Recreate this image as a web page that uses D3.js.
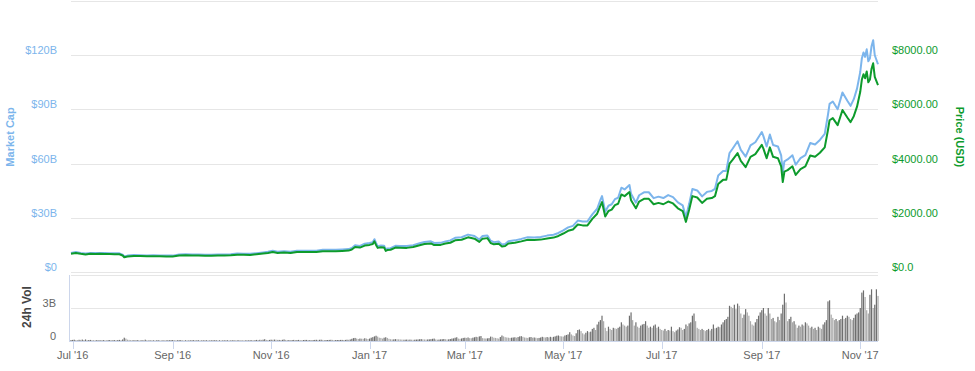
<!DOCTYPE html>
<html><head><meta charset="utf-8">
<script src="https://cdn.jsdelivr.net/npm/d3@7"></script>
<style>
html,body{margin:0;padding:0;background:#fff;}
svg{display:block;font-family:"Lucida Grande","Lucida Sans Unicode",Arial,"Liberation Sans",sans-serif;}
</style></head><body>
<svg id="chart" width="975" height="371"></svg>
<script>
// ---- DATA ----
const dates = ["2016-06-30","2016-07-03","2016-07-06","2016-07-09","2016-07-12","2016-07-15","2016-07-18","2016-07-21","2016-07-24","2016-07-27","2016-07-30",
"2016-08-01","2016-08-02","2016-08-04","2016-08-08","2016-08-12","2016-08-16","2016-08-20","2016-08-24","2016-08-28",
"2016-09-01","2016-09-05","2016-09-09","2016-09-13","2016-09-17","2016-09-21","2016-09-25","2016-09-29",
"2016-10-03","2016-10-07","2016-10-11","2016-10-15","2016-10-19","2016-10-23","2016-10-27","2016-10-30",
"2016-11-02","2016-11-05","2016-11-09","2016-11-13","2016-11-17","2016-11-21","2016-11-25","2016-11-29",
"2016-12-03","2016-12-07","2016-12-11","2016-12-15","2016-12-19","2016-12-21","2016-12-23","2016-12-26","2016-12-29",
"2017-01-01","2017-01-03","2017-01-04","2017-01-05","2017-01-06","2017-01-08","2017-01-10","2017-01-11","2017-01-12","2017-01-14","2017-01-17","2017-01-20","2017-01-24","2017-01-28",
"2017-02-01","2017-02-04","2017-02-08","2017-02-10","2017-02-14","2017-02-17","2017-02-20","2017-02-23","2017-02-27",
"2017-03-03","2017-03-07","2017-03-10","2017-03-12","2017-03-15","2017-03-17","2017-03-19","2017-03-22","2017-03-24","2017-03-26","2017-03-28",
"2017-04-01","2017-04-05","2017-04-09","2017-04-13","2017-04-17","2017-04-21","2017-04-25","2017-04-28",
"2017-05-01","2017-05-04","2017-05-07","2017-05-10","2017-05-13","2017-05-16","2017-05-19","2017-05-22","2017-05-24","2017-05-25","2017-05-27","2017-05-29","2017-05-31",
"2017-06-02","2017-06-04","2017-06-06","2017-06-08","2017-06-11","2017-06-12","2017-06-15","2017-06-17","2017-06-20","2017-06-23","2017-06-26","2017-06-29",
"2017-07-02","2017-07-05","2017-07-08","2017-07-11","2017-07-14","2017-07-16","2017-07-18","2017-07-20","2017-07-23","2017-07-26","2017-07-29",
"2017-08-01","2017-08-03","2017-08-05","2017-08-08","2017-08-10","2017-08-12","2017-08-14","2017-08-17","2017-08-19","2017-08-22","2017-08-25","2017-08-28",
"2017-09-01","2017-09-02","2017-09-04","2017-09-06","2017-09-08","2017-09-11","2017-09-13","2017-09-14","2017-09-15","2017-09-17","2017-09-20","2017-09-22","2017-09-25","2017-09-28",
"2017-10-01","2017-10-04","2017-10-07","2017-10-10","2017-10-12","2017-10-13","2017-10-15","2017-10-18","2017-10-21","2017-10-24","2017-10-26","2017-10-28","2017-10-30",
"2017-11-01","2017-11-02","2017-11-03","2017-11-04","2017-11-05","2017-11-06","2017-11-07","2017-11-08","2017-11-09","2017-11-10","2017-11-12"];

const priceUSD = [672,700,670,650,672,665,672,665,660,655,655,
610,545,575,592,587,580,582,580,575,
572,608,622,608,607,597,601,605,
612,615,640,638,630,655,680,700,
735,705,715,700,738,735,735,735,
765,768,770,778,790,830,920,900,975,
1000,1030,1130,1000,890,910,905,780,810,820,900,895,890,920,
985,1030,1055,995,1000,1050,1080,1170,1190,
1280,1230,1110,1230,1250,1070,1020,1040,940,960,1050,
1080,1130,1190,1180,1195,1240,1270,1330,
1420,1520,1570,1750,1720,1720,1960,2150,2450,2580,2050,2250,2300,
2470,2520,2860,2800,2950,2650,2350,2600,2700,2700,2500,2550,
2500,2600,2530,2350,2250,1850,2300,2800,2750,2550,2700,
2730,2800,3250,3400,3400,4000,4150,4390,4100,3870,4250,4350,
4690,4550,4200,4600,4250,4200,3900,3320,3700,3760,3900,3580,3800,3900,
4300,4250,4400,4600,5240,5600,5680,5420,5980,5700,5530,5750,6100,
6650,7100,7300,7150,7400,7000,7100,7500,7700,7200,6900];

const marketCapB = [10.57,11.01,10.54,10.23,10.58,10.47,10.58,10.47,10.39,10.32,10.33,
9.63,8.60,9.08,9.35,9.28,9.17,9.21,9.18,9.11,
9.07,9.65,9.87,9.66,9.65,9.49,9.56,9.63,
9.75,9.80,10.20,10.17,10.05,10.45,10.85,11.17,
11.74,11.27,11.43,11.19,11.80,11.76,11.77,11.77,
12.26,12.31,12.35,12.48,12.67,13.31,14.76,14.44,15.65,
16.06,16.55,18.15,16.07,14.30,14.63,14.55,12.54,13.02,13.19,14.48,14.40,14.33,14.81,
15.87,16.60,17.01,16.05,16.14,16.95,17.44,18.90,19.23,
20.70,19.90,17.96,19.90,20.23,17.32,16.52,16.84,15.23,15.55,17.01,
17.51,18.32,19.30,19.15,19.40,20.14,20.63,21.61,
23.08,24.72,25.54,28.47,27.99,28.00,31.91,35.01,39.91,42.03,33.40,36.67,37.49,
40.29,41.11,46.67,45.70,48.17,43.27,38.38,42.47,44.12,44.14,40.89,41.72,
40.93,42.58,41.44,38.51,36.88,30.33,37.72,45.93,45.13,41.86,44.34,
44.87,46.03,53.45,55.94,55.96,65.86,68.35,72.35,67.59,63.83,70.13,71.81,
77.50,75.20,69.43,76.06,70.30,69.50,64.56,54.97,61.27,62.28,64.63,59.35,63.02,64.70,
71.38,70.56,73.07,76.41,87.05,93.04,94.38,90.08,99.41,94.79,91.98,95.66,101.51,
110.70,118.20,121.55,119.06,123.24,116.59,118.27,124.95,128.29,119.98,115.00];

// daily 24h volume, starting 2016-06-30, in units of $10M
const volumeStart = "2016-06-30";
const volume10M = [9,
10,12,9,8,11,10,13,9,14,8,9,10,9,8,7,9,8,8,7,9,8,7,8,9,7,8,8,7,9,10,8,
14,30,22,12,10,9,8,8,7,9,8,7,8,7,12,8,7,7,6,7,6,6,8,7,6,7,6,6,7,7,8,
9,8,7,7,8,8,7,6,7,6,6,6,7,8,7,7,7,6,6,6,6,7,6,6,6,7,7,7,6,7,
6,6,6,6,7,6,6,6,7,6,6,7,6,6,5,6,6,6,7,7,6,8,10,9,11,10,12,16,10,9,10,
12,11,13,12,10,10,9,11,14,10,9,9,8,9,10,9,9,10,9,8,9,10,10,9,9,8,9,10,11,10,
11,12,10,9,9,9,10,11,10,9,9,9,9,10,10,9,10,12,11,14,20,26,28,22,18,22,21,20,25,22,18,
22,30,35,42,48,40,30,28,22,30,34,28,20,16,14,15,17,16,15,14,13,12,12,13,12,13,12,11,12,13,14,
16,17,15,14,13,14,15,17,20,22,14,12,13,15,16,18,16,14,15,18,22,24,30,34,22,20,23,28,
30,28,32,26,25,30,34,38,35,42,45,26,24,23,24,26,40,38,30,28,25,22,36,50,42,35,32,30,28,30,32,
34,30,36,42,44,38,32,30,28,34,36,30,32,30,26,28,32,38,34,32,36,32,38,34,38,42,48,50,44,42,
40,50,55,60,80,60,50,45,70,100,105,90,70,60,75,90,80,85,110,120,100,150,175,190,230,180,120,90,130,110,100,
120,115,110,120,130,170,150,140,130,140,230,260,190,140,170,130,120,140,150,155,180,140,120,130,120,140,150,120,130,110,
100,95,110,90,100,95,130,90,80,95,105,125,120,100,110,150,135,160,170,230,250,180,120,110,100,110,100,90,100,110,95,
110,150,115,120,130,125,150,170,190,200,220,320,310,300,330,290,340,320,250,210,240,290,260,230,180,150,140,170,200,230,260,
280,300,250,230,300,250,200,210,180,170,220,190,250,330,430,350,180,200,220,170,180,150,120,140,130,150,140,170,160,140,
120,130,110,120,100,130,120,110,150,170,190,360,370,240,210,190,200,180,190,200,230,200,210,230,220,200,190,210,240,250,260,
300,440,460,400,280,250,420,470,300,330,470,410];

const capTicks = [0,30,60,90,120,150];
const capTickLabels = ["$0","$30B","$60B","$90B","$120B",""];
const priceTicks = [0,2000,4000,6000,8000,10000];
const priceTickLabels = ["$0.0","$2000.00","$4000.00","$6000.00","$8000.00",""];
const volTicks = [0,300,600];
const volTickLabels = ["0","3B",""];

// ---- CHART ----
const parse = d3.timeParse("%Y-%m-%d");
const dts = dates.map(parse);
const vStart = parse(volumeStart);
const vDates = volume10M.map((v,i)=>d3.timeDay.offset(vStart,i));

const L = 71, R = 878, mainTop = 1, mainBot = 272, volTop = 275, volBot = 341;
const BLUE = "#7cb5ec", GREEN = "#0d9b2c", GRID = "#e6e6e6", AXIS = "#ccd6eb";

const svg = d3.select("#chart");
const x = d3.scaleTime().domain([dts[0], dts[dts.length-1]]).range([L, R]);
const yCap = d3.scaleLinear().domain([0,150]).range([mainBot, mainTop]);
const yPrice = d3.scaleLinear().domain([0,10000]).range([mainBot, mainTop]);
const yVol = d3.scaleLinear().domain([0,600]).range([volBot, volTop]);

// gridlines main
svg.append("g").selectAll("line").data(capTicks).join("line")
  .attr("x1",L).attr("x2",R)
  .attr("y1",d=>Math.round(yCap(d))+0.5).attr("y2",d=>Math.round(yCap(d))+0.5)
  .attr("stroke",GRID).attr("stroke-width",1);
// left labels
svg.append("g").selectAll("text").data(capTicks).join("text")
  .attr("x",57).attr("y",d=>yCap(d)-1)
  .attr("text-anchor","end").attr("font-size","11px").attr("fill",BLUE)
  .text((d,i)=>capTickLabels[i]);
// right labels
svg.append("g").selectAll("text").data(priceTicks).join("text")
  .attr("x",892).attr("y",d=>yPrice(d)-1)
  .attr("text-anchor","start").attr("font-size","11px").attr("fill",GREEN)
  .text((d,i)=>priceTickLabels[i]);

// volume gridlines
svg.append("g").selectAll("line").data(volTicks).join("line")
  .attr("x1",L).attr("x2",R)
  .attr("y1",d=>Math.round(yVol(d))+0.5).attr("y2",d=>Math.round(yVol(d))+0.5)
  .attr("stroke",GRID);
svg.append("g").selectAll("text").data(volTicks).join("text")
  .attr("x",56).attr("y",d=>yVol(d)-1)
  .attr("text-anchor","end").attr("font-size","11px").attr("fill","#666")
  .text((d,i)=>volTickLabels[i]);

// volume bars
svg.append("g").selectAll("rect").data(volume10M).join("rect")
  .attr("x",(d,i)=>x(vDates[i])-0.6)
  .attr("width",1.2)
  .attr("y",d=>yVol(d))
  .attr("height",d=>volBot-yVol(d))
  .attr("fill",(d,i)=> (i>0 && d<volume10M[i-1]) ? "#a9a9a9" : "#6e6e6e");

// axis lines
svg.append("line").attr("x1",69.5).attr("x2",69.5).attr("y1",volTop).attr("y2",volBot).attr("stroke",AXIS);
svg.append("line").attr("x1",69).attr("x2",R).attr("y1",volBot+0.5).attr("y2",volBot+0.5).attr("stroke",AXIS);

// x axis ticks
const xt = x.ticks(d3.timeMonth.every(2));
const fmt = d3.timeFormat("%b '%y");
svg.append("g").selectAll("line").data(xt).join("line")
  .attr("x1",d=>Math.round(x(d))+0.5).attr("x2",d=>Math.round(x(d))+0.5)
  .attr("y1",volBot).attr("y2",volBot+8).attr("stroke",AXIS);
svg.append("g").selectAll("text").data(xt).join("text")
  .attr("x",d=>x(d)).attr("y",359)
  .attr("text-anchor","middle").attr("font-size","11px").attr("fill","#666")
  .text(d=>fmt(d));

// lines
const capLine = d3.line().x((d,i)=>x(dts[i])).y(d=>yCap(d)).curve(d3.curveLinear);
const priceLine = d3.line().x((d,i)=>x(dts[i])).y(d=>yPrice(d)).curve(d3.curveLinear);
svg.append("path").datum(marketCapB).attr("d",capLine).attr("fill","none")
  .attr("stroke",BLUE).attr("stroke-width",2).attr("stroke-linejoin","round");
svg.append("path").datum(priceUSD).attr("d",priceLine).attr("fill","none")
  .attr("stroke",GREEN).attr("stroke-width",2).attr("stroke-linejoin","round");

// axis titles
svg.append("text").attr("transform","translate(14,137) rotate(-90)")
  .attr("text-anchor","middle").attr("font-size","11px").attr("font-weight","bold")
  .attr("fill",BLUE).text("Market Cap");
svg.append("text").attr("transform","translate(956,137) rotate(90)")
  .attr("text-anchor","middle").attr("font-size","11px").attr("font-weight","bold")
  .attr("fill",GREEN).text("Price (USD)");
svg.append("text").attr("transform","translate(31,307) rotate(-90)")
  .attr("text-anchor","middle").attr("font-size","12px").attr("font-weight","bold")
  .attr("fill","#444").text("24h Vol");
</script>
</body></html>
